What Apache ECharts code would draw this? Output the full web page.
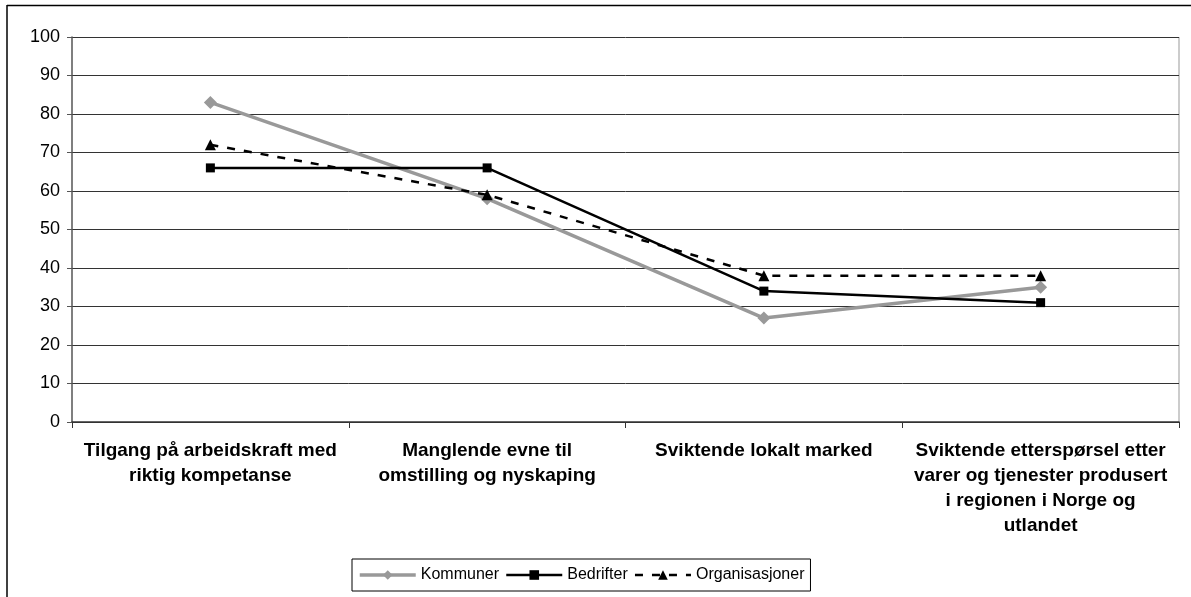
<!DOCTYPE html>
<html>
<head>
<meta charset="utf-8">
<script src="https://cdn.jsdelivr.net/npm/echarts@6/dist/echarts.min.js"></script>
<style>
html, body { margin: 0; padding: 0; background: #fff; }
#main { width: 1191px; height: 597px; }
</style>
</head>
<body>
<div id="main"></div>
<script>
var categories = [
    'Tilgang på arbeidskraft med\nriktig kompetanse',
    'Manglende evne til\nomstilling og nyskaping',
    'Sviktende lokalt marked',
    'Sviktende etterspørsel etter\nvarer og tjenester produsert\ni regionen i Norge og\nutlandet'
];
var kommuner = [83, 58, 27, 35];
var bedrifter = [66, 66, 34, 31];
var organisasjoner = [72, 59, 38, 38];
var yTicks = [0, 10, 20, 30, 40, 50, 60, 70, 80, 90, 100];

var chart = echarts.init(document.getElementById('main'));

var option = {
    animation: false,
    textStyle: { fontFamily: 'Liberation Sans, Arial, sans-serif' },
    grid: { left: 72, right: 12, top: 37, bottom: 175 },
    legend: {
        left: 352,
        top: 559,
        padding: [8, 6],
        borderColor: '#000',
        borderWidth: 1,
        itemWidth: 56,
        itemHeight: 12,
        itemGap: 6,
        textStyle: { fontSize: 16, color: '#000', fontFamily: 'Liberation Sans, Arial, sans-serif' },
        data: [
            { name: 'Kommuner', lineStyle: { width: 3.5 } },
            { name: 'Bedrifter', lineStyle: { width: 2.5 } },
            { name: 'Organisasjoner', lineStyle: { width: 2.5 } }
        ]
    },
    xAxis: {
        type: 'category',
        data: categories,
        boundaryGap: true,
        axisLine: { lineStyle: { color: '#333', width: 1.5 } },
        axisTick: { show: true, length: 6, lineStyle: { color: '#333' } },
        axisLabel: {
            interval: 0,
            margin: 16,
            fontSize: 19,
            fontWeight: 'bold',
            color: '#000',
            lineHeight: 25,
            align: 'center'
        }
    },
    yAxis: {
        type: 'value',
        min: 0,
        max: yTicks[yTicks.length - 1],
        interval: yTicks[1] - yTicks[0],
        axisLine: { show: true, lineStyle: { color: '#555', width: 1.5 } },
        axisTick: { show: true, length: 5, lineStyle: { color: '#555' } },
        splitLine: { show: true, lineStyle: { color: '#333', width: 1 } },
        axisLabel: { fontSize: 18, color: '#000', margin: 12 }
    },
    graphic: [
        { type: 'line', shape: { x1: 7, y1: 5.5, x2: 1191, y2: 5.5 }, style: { stroke: '#000', lineWidth: 1.5 } },
        { type: 'line', shape: { x1: 7, y1: 5, x2: 7, y2: 597 }, style: { stroke: '#000', lineWidth: 1.5 } },
        { type: 'line', shape: { x1: 1179, y1: 37, x2: 1179, y2: 422 }, style: { stroke: '#999', lineWidth: 1 } }
    ],
    series: [
        {
            name: 'Kommuner',
            type: 'line',
            data: kommuner,
            symbol: 'diamond',
            symbolSize: 13,
            lineStyle: { color: '#999', width: 3.5 },
            itemStyle: { color: '#999' },
            z: 2
        },
        {
            name: 'Bedrifter',
            type: 'line',
            data: bedrifter,
            symbol: 'rect',
            symbolSize: 9,
            lineStyle: { color: '#000', width: 2.5 },
            itemStyle: { color: '#000' },
            z: 3
        },
        {
            name: 'Organisasjoner',
            type: 'line',
            data: organisasjoner,
            symbol: 'triangle',
            symbolSize: 11,
            lineStyle: { color: '#000', width: 2.5, type: [8, 9] },
            itemStyle: { color: '#000' },
            z: 4
        }
    ]
};

chart.setOption(option);
window.onresize = function () { chart.resize(); };
</script>
</body>
</html>
